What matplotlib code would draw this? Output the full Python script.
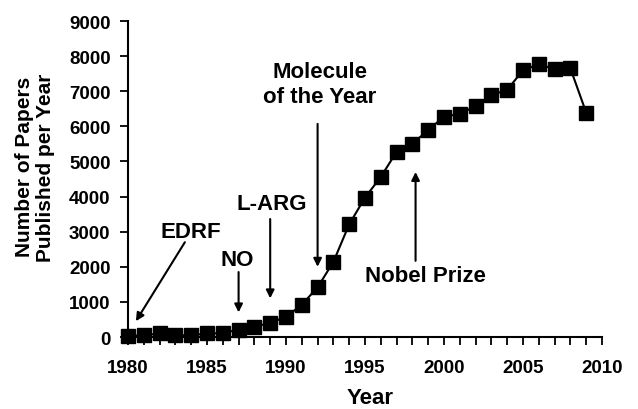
import matplotlib.pyplot as plt

# Papers per year
years = list(range(1980, 2010))
papers = [30, 50, 100, 50, 50, 100, 110, 210, 285, 410,
          570, 920, 1415, 2140, 3210, 3970, 4560, 5275, 5510, 5890,
          6280, 6350, 6580, 6890, 7040, 7600, 7770, 7630, 7650, 6390]

# Annotations: label, text position, arrow tail, arrow head
labels = ['EDRF', 'NO', 'L-ARG', 'Molecule\nof the Year', 'Nobel Prize']
text_xy = [(1984.0, 3000), (1986.9, 2220), (1989.1, 3790), (1992.15, 7220), (1998.8, 1740)]
tail_xy = [(1983.6, 2700), (1987.0, 1850), (1989.0, 3360), (1992.0, 6070), (1998.2, 2170)]
head_xy = [(1980.5, 450), (1987.0, 700), (1989.0, 1100), (1992.0, 2000), (1998.2, 4700)]

plt.rcParams['font.family'] = ['Liberation Sans', 'DejaVu Sans']
plt.rcParams['font.weight'] = 'bold'

fig = plt.figure(figsize=(6.38, 4.10), dpi=100)
ax = fig.add_axes([0.2006, 0.1756, 0.7430, 0.7707])

ax.plot(years, papers, color='black', linewidth=1.5, marker='s',
        markersize=10.5, markerfacecolor='black', markeredgecolor='black',
        clip_on=False, zorder=3)

for lab, txy, t, h in zip(labels, text_xy, tail_xy, head_xy):
    ax.text(txy[0], txy[1], lab, ha='center', va='center', fontsize=16,
            fontweight='bold', linespacing=1.25)
    ax.annotate('', xy=h, xytext=t,
                arrowprops=dict(arrowstyle='-|>', color='black', lw=1.5,
                                mutation_scale=12, shrinkA=0, shrinkB=0))

ax.set_xlim(1980, 2010)
ax.set_ylim(0, 9000)
ax.set_xticks(range(1980, 2011, 5))
ax.set_xticks(range(1980, 2011), minor=True)
ax.set_yticks(range(0, 9001, 1000))
ax.tick_params(axis='both', which='both', direction='out', width=1.3,
               labelsize=13.5)
ax.tick_params(axis='both', which='major', length=5.5)
ax.tick_params(axis='x', which='minor', length=5.5)
ax.tick_params(axis='x', pad=10)
ax.tick_params(axis='y', pad=7)
for lbl in ax.get_xticklabels() + ax.get_yticklabels():
    lbl.set_fontweight('bold')

ax.spines['top'].set_visible(False)
ax.spines['right'].set_visible(False)
ax.spines['left'].set_linewidth(1.5)
ax.spines['bottom'].set_linewidth(1.5)

ax.set_xlabel('Year', fontsize=16, fontweight='bold')
ax.xaxis.set_label_coords(0.51, -0.158)
ax.set_ylabel('Number of Papers\nPublished per Year', fontsize=15,
              fontweight='bold', linespacing=1.1)
ax.yaxis.set_label_coords(-0.155, 0.54)

fig.savefig('out.png', dpi=100)
